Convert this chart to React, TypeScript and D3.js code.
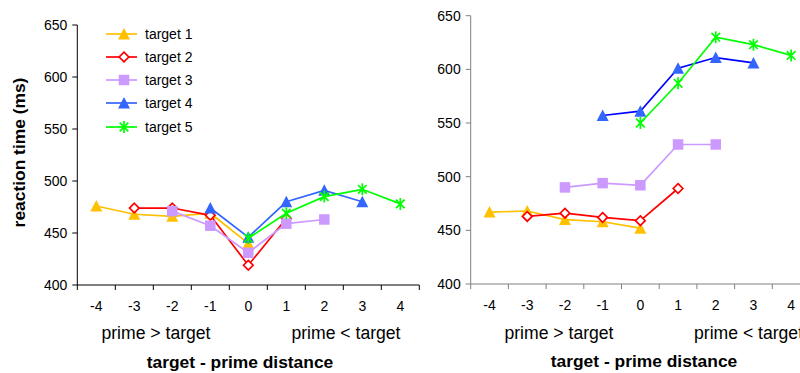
import React from "react";
import * as d3 from "d3";

// Distance categories (target - prime)
const categories = [-4, -3, -2, -1, 0, 1, 2, 3, 4];
const seriesNames = ["target 1", "target 2", "target 3", "target 4", "target 5"];
const yTicks = [400, 450, 500, 550, 600, 650];

// Left panel: reaction time (ms) per target
const leftT1 = [476, 468, 466, 469, 440, null, null, null, null];
const leftT2 = [null, 474, 474, 467, 419, 464, null, null, null];
const leftT3 = [null, null, 471, 457, 431, 459, 463, null, null];
const leftT4 = [null, null, null, 474, 446, 480, 491, 480, null];
const leftT5 = [null, null, null, null, 445, 469, 485, 492, 478];

// Right panel: reaction time (ms) per target
const rightT1 = [467, 468, 460, 458, 452, null, null, null, null];
const rightT2 = [null, 463, 466, 462, 459, 489, null, null, null];
const rightT3 = [null, null, 490, 494, 492, 530, 530, null, null];
const rightT4 = [null, null, null, 557, 561, 601, 611, 606, null];
const rightT5 = [null, null, null, null, 550, 587, 630, 623, 613];

type Marker = "triangle" | "diamond" | "square" | "star";
interface Style {
  line: string;
  lineRight: string;
  marker: string;
  shape: Marker;
}
const styles: Style[] = [
  { line: "#FFC000", lineRight: "#FFC000", marker: "#FFC000", shape: "triangle" },
  { line: "#FF0000", lineRight: "#FF0000", marker: "#FF0000", shape: "diamond" },
  { line: "#CC99FF", lineRight: "#CC99FF", marker: "#CC99FF", shape: "square" },
  { line: "#3366FF", lineRight: "#0000FF", marker: "#3366FF", shape: "triangle" },
  { line: "#00FF00", lineRight: "#00FF00", marker: "#00FF00", shape: "star" },
];

const FONT = "'Liberation Sans', Arial, sans-serif";

function MarkerShape({ shape, color, x, y }: { shape: Marker; color: string; x: number; y: number }) {
  if (shape === "triangle") {
    const s = 12;
    return (
      <path
        d={`M${x},${y - s / 2}L${x + s / 2},${y + s / 2 - 0.5}L${x - s / 2},${y + s / 2 - 0.5}Z`}
        fill={color}
      />
    );
  }
  if (shape === "square") {
    const s = 10.5;
    return <rect x={x - s / 2} y={y - s / 2} width={s} height={s} fill={color} />;
  }
  if (shape === "diamond") {
    const s = 4.8;
    return (
      <path
        d={`M${x},${y - s}L${x + s},${y}L${x},${y + s}L${x - s},${y}Z`}
        fill="#fff"
        stroke={color}
        strokeWidth={1.7}
      />
    );
  }
  const r = 6;
  const k = r * 0.72;
  return (
    <path
      d={`M${x - k},${y - k}L${x + k},${y + k}M${x - k},${y + k}L${x + k},${y - k}M${x},${y - r}L${x},${y + r}`}
      stroke={color}
      strokeWidth={1.7}
      fill="none"
    />
  );
}

interface PanelProps {
  data: (number | null)[][];
  x0: number;
  step: number;
  yTop: number;
  yBottom: number;
  axisColor: string;
  right: boolean;
}

function Panel({ data, x0, step, yTop, yBottom, axisColor, right }: PanelProps) {
  const x = d3
    .scaleBand<number>()
    .domain(categories)
    .range([x0, x0 + step * categories.length])
    .padding(0);
  const y = d3.scaleLinear().domain([400, 650]).range([yBottom, yTop]);
  const cx = (c: number) => (x(c) as number) + x.bandwidth() / 2;

  const line = d3
    .line<[number, number | null]>()
    .defined((d) => d[1] !== null)
    .x((d) => cx(d[0]))
    .y((d) => y(d[1] as number));

  const xEnd = x0 + step * categories.length;
  const boundaries = d3.range(categories.length + 1).map((i) => x0 + i * step);

  return (
    <g>
      {/* axes */}
      <line x1={x0} x2={x0} y1={y(650)} y2={y(400)} stroke={axisColor} strokeWidth={1} />
      <line x1={x0} x2={xEnd} y1={y(400)} y2={y(400)} stroke={axisColor} strokeWidth={1} />
      {yTicks.map((t) => (
        <g key={t}>
          <line x1={x0 - 5} x2={x0} y1={y(t)} y2={y(t)} stroke={axisColor} />
          <text
            x={x0 - 10}
            y={y(t) + 5}
            textAnchor="end"
            fontSize={14}
            fontFamily={FONT}
            fill="#000"
          >
            {t}
          </text>
        </g>
      ))}
      {boundaries.map((b, i) => (
        <line key={i} x1={b} x2={b} y1={y(400)} y2={y(400) + 5} stroke={axisColor} />
      ))}
      {categories.map((c) => (
        <text
          key={c}
          x={cx(c)}
          y={y(400) + 26}
          textAnchor="middle"
          fontSize={14}
          fontFamily={FONT}
          fill="#000"
        >
          {c}
        </text>
      ))}
      {/* series */}
      {data.map((vals, si) => {
        const st = styles[si];
        const pts: [number, number | null][] = categories.map((c, i) => [c, vals[i]]);
        return (
          <g key={si}>
            <path
              d={line(pts) || ""}
              fill="none"
              stroke={right ? st.lineRight : st.line}
              strokeWidth={1.7}
            />
            {pts
              .filter((p) => p[1] !== null)
              .map((p) => (
                <MarkerShape
                  key={p[0]}
                  shape={st.shape}
                  color={st.marker}
                  x={cx(p[0])}
                  y={y(p[1] as number)}
                />
              ))}
          </g>
        );
      })}
    </g>
  );
}

export default function App() {
  const leftData = [leftT1, leftT2, leftT3, leftT4, leftT5];
  const rightData = [rightT1, rightT2, rightT3, rightT4, rightT5];
  const legendY = [34, 57, 80, 103, 127];

  return (
    <svg
      width={800}
      height={373}
      style={{ position: "absolute", left: 0, top: 0, background: "#fff" }}
    >
      <rect width={800} height={373} fill="#fff" />
      <Panel data={leftData} x0={77.3} step={38} yTop={25} yBottom={285} axisColor="#000" right={false} />
      <Panel data={rightData} x0={470.7} step={37.7} yTop={15.7} yBottom={284} axisColor="#808080" right={true} />

      {/* left panel annotations */}
      <text x={156} y={339} textAnchor="middle" fontSize={17.6} fontFamily={FONT}>
        prime &gt; target
      </text>
      <text x={346} y={339} textAnchor="middle" fontSize={17.6} fontFamily={FONT}>
        prime &lt; target
      </text>
      <text x={240} y={368} textAnchor="middle" fontSize={17.4} fontWeight="bold" fontFamily={FONT}>
        target - prime distance
      </text>
      <text
        transform="translate(25,152.5) rotate(-90)"
        textAnchor="middle"
        fontSize={17.4}
        fontWeight="bold"
        fontFamily={FONT}
      >
        reaction time (ms)
      </text>

      {/* right panel annotations */}
      <text x={559} y={339} textAnchor="middle" fontSize={17.6} fontFamily={FONT}>
        prime &gt; target
      </text>
      <text x={694} y={339} textAnchor="start" fontSize={17.6} fontFamily={FONT}>
        prime &lt; target
      </text>
      <text x={644} y={367} textAnchor="middle" fontSize={17.4} fontWeight="bold" fontFamily={FONT}>
        target - prime distance
      </text>

      {/* legend */}
      {seriesNames.map((name, i) => (
        <g key={name}>
          <line x1={106} x2={137} y1={legendY[i]} y2={legendY[i]} stroke={styles[i].line} strokeWidth={1.7} />
          <MarkerShape shape={styles[i].shape} color={styles[i].marker} x={124} y={legendY[i]} />
          <text x={145} y={legendY[i] + 5} fontSize={14} fontFamily={FONT}>
            {name}
          </text>
        </g>
      ))}
    </svg>
  );
}
